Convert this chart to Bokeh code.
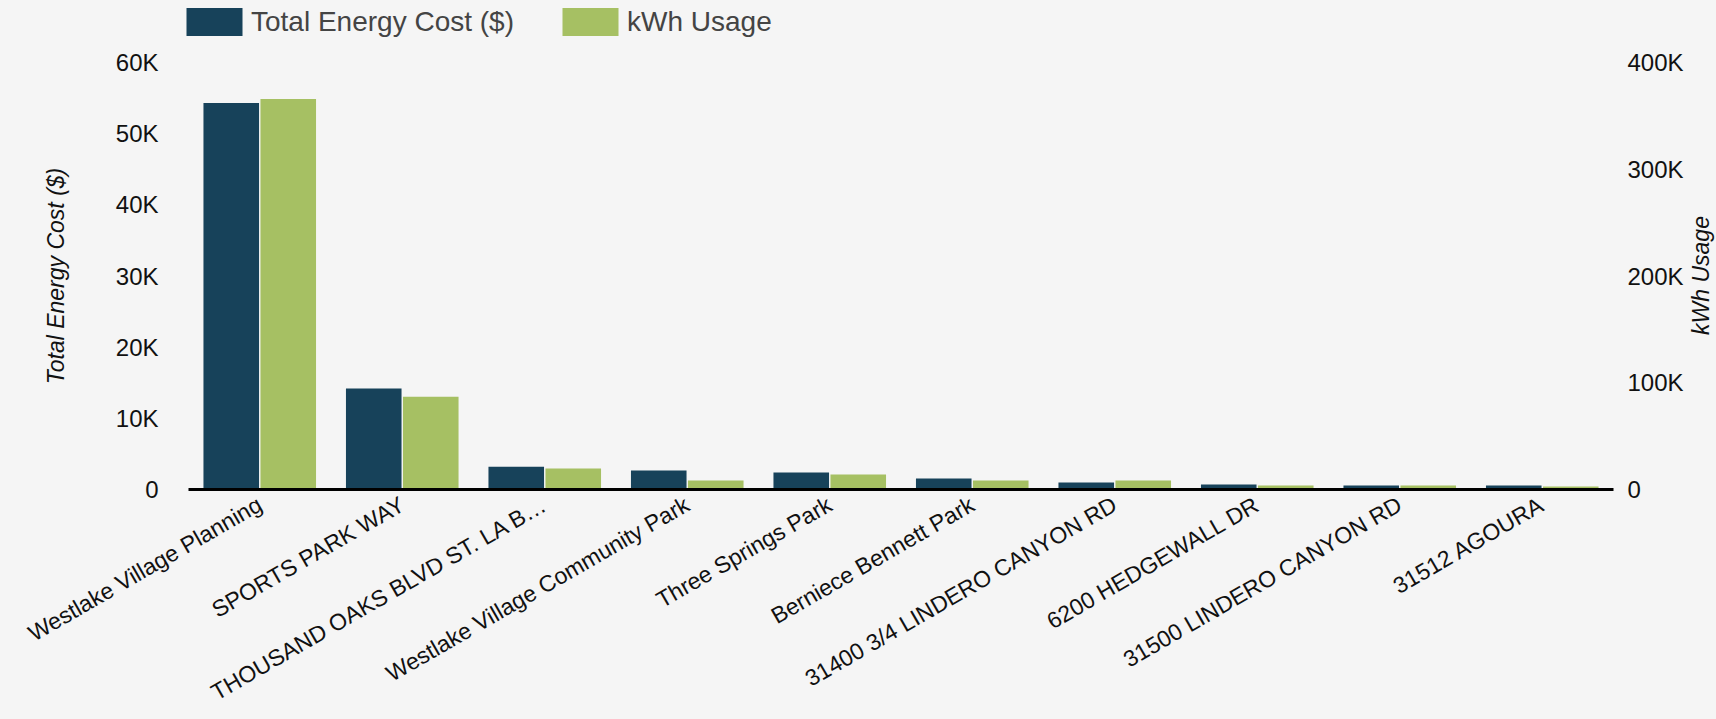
import math
from bokeh.plotting import figure
from bokeh.layouts import column, row
from bokeh.models import (FactorRange, Range1d, LinearAxis, FixedTicker, Legend,
                          LegendItem, ColumnDataSource, Label)
from bokeh.transform import dodge
from bokeh.embed import file_html
from bokeh.resources import INLINE

categories = [
    "Westlake Village Planning",
    "SPORTS PARK WAY",
    "THOUSAND OAKS BLVD ST. LA B\u2026",
    "Westlake Village Community Park",
    "Three Springs Park",
    "Berniece Bennett Park",
    "31400 3/4 LINDERO CANYON RD",
    "6200 HEDGEWALL DR",
    "31500 LINDERO CANYON RD",
    "31512 AGOURA",
]
total_energy_cost = [54300, 14200, 3200, 2670, 2390, 1540, 980, 700, 560, 560]
kwh_usage = [365700, 87000, 19600, 8400, 14000, 8400, 8400, 3700, 3700, 2800]

left_ticks = [0, 10000, 20000, 30000, 40000, 50000, 60000]
left_tick_labels = ["0", "10K", "20K", "30K", "40K", "50K", "60K"]
right_ticks = [0, 100000, 200000, 300000, 400000]
right_tick_labels = ["0", "100K", "200K", "300K", "400K"]
series_names = ["Total Energy Cost ($)", "kWh Usage"]

DARK = "#17425a"
GREEN = "#a6c063"
BG = "#f5f5f5"
FONT = "Liberation Sans"
TXT = "#111111"


def blank_figure(w, h):
    f = figure(width=w, height=h, x_range=Range1d(0, 1), y_range=Range1d(0, 1),
               output_backend="svg", toolbar_location=None,
               x_axis_location=None, y_axis_location=None, min_border=0)
    f.background_fill_color = BG
    f.border_fill_color = BG
    f.outline_line_color = None
    f.grid.visible = False
    return f


src = ColumnDataSource(dict(cat=categories, cost=total_energy_cost, kwh=kwh_usage))

# ---------------- main chart ----------------
p = figure(
    x_range=FactorRange(factors=categories, range_padding=0),
    y_range=Range1d(0, 60000),
    width=1686, height=674,
    output_backend="svg", toolbar_location=None,
    min_border_left=188, min_border_right=68,
    min_border_top=17, min_border_bottom=229,
)
p.extra_y_ranges = {"kwh": Range1d(0, 400000)}

r1 = p.vbar(x=dodge("cat", -0.2, range=p.x_range), top="cost", width=0.39,
            source=src, fill_color=DARK, line_color=None)
r2 = p.vbar(x=dodge("cat", 0.2, range=p.x_range), top="kwh", width=0.39,
            source=src, fill_color=GREEN, line_color=None, y_range_name="kwh")

p.background_fill_color = BG
p.border_fill_color = BG
p.outline_line_color = None
p.xgrid.visible = False
p.ygrid.visible = False

xa = p.xaxis[0]
xa.axis_line_color = "black"
xa.axis_line_width = 3
xa.major_tick_line_color = None
xa.minor_tick_line_color = None
xa.major_label_orientation = math.pi / 6
xa.major_label_text_font = FONT
xa.major_label_text_font_size = "23px"
xa.major_label_text_line_height = 1.0
xa.major_label_text_color = TXT
xa.major_label_standoff = 7

ya = p.yaxis[0]
ya.ticker = FixedTicker(ticks=left_ticks)
ya.major_label_overrides = dict(zip(left_ticks, left_tick_labels))
ya.axis_line_color = None
ya.major_tick_line_color = None
ya.minor_tick_line_color = None
ya.major_label_text_font = FONT
ya.major_label_text_font_size = "24px"
ya.major_label_text_color = TXT
ya.major_label_standoff = 24
ya.axis_label = series_names[0]
ya.axis_label_text_font = FONT
ya.axis_label_text_font_size = "23px"
ya.axis_label_text_font_style = "italic"
ya.axis_label_text_color = TXT
ya.axis_label_standoff = 44

ra = LinearAxis(y_range_name="kwh", ticker=FixedTicker(ticks=right_ticks))
ra.major_label_overrides = dict(zip(right_ticks, right_tick_labels))
ra.axis_line_color = None
ra.major_tick_line_color = None
ra.minor_tick_line_color = None
ra.major_label_text_font = FONT
ra.major_label_text_font_size = "24px"
ra.major_label_text_color = TXT
ra.major_label_standoff = 8
p.add_layout(ra, "right")

# ---------------- legend strip (top) ----------------
lf = blank_figure(1716, 45)
# zero-height legend proxies (nothing visible is drawn by them)
lr1 = lf.vbar(x=[0.5], top=[0], bottom=[0], width=0.1, fill_color=DARK, line_color=None)
lr2 = lf.vbar(x=[0.5], top=[0], bottom=[0], width=0.1, fill_color=GREEN, line_color=None)
legend = Legend(
    items=[LegendItem(label=series_names[0], renderers=[lr1]),
           LegendItem(label=series_names[1], renderers=[lr2])],
    orientation="horizontal", location=(179, 6),
    border_line_color=None, background_fill_alpha=0,
    padding=0, margin=0, spacing=41,
    glyph_width=70, glyph_height=35, label_standoff=2,
    label_text_font=FONT, label_text_font_size="28px", label_text_color="#444444",
)
lf.add_layout(legend)

# ---------------- right axis title strip ----------------
tf = blank_figure(30, 674)
tf.add_layout(Label(
    x=14, y=214, x_units="screen", y_units="screen", text=series_names[1],
    angle=math.pi / 2, text_align="center", text_baseline="middle",
    text_font=FONT, text_font_size="23px", text_font_style="italic",
    text_color=TXT,
))

layout = column(lf, row(p, tf, spacing=0), spacing=0)
layout.background = BG

open("out.html", "w").write(file_html(layout, INLINE))
